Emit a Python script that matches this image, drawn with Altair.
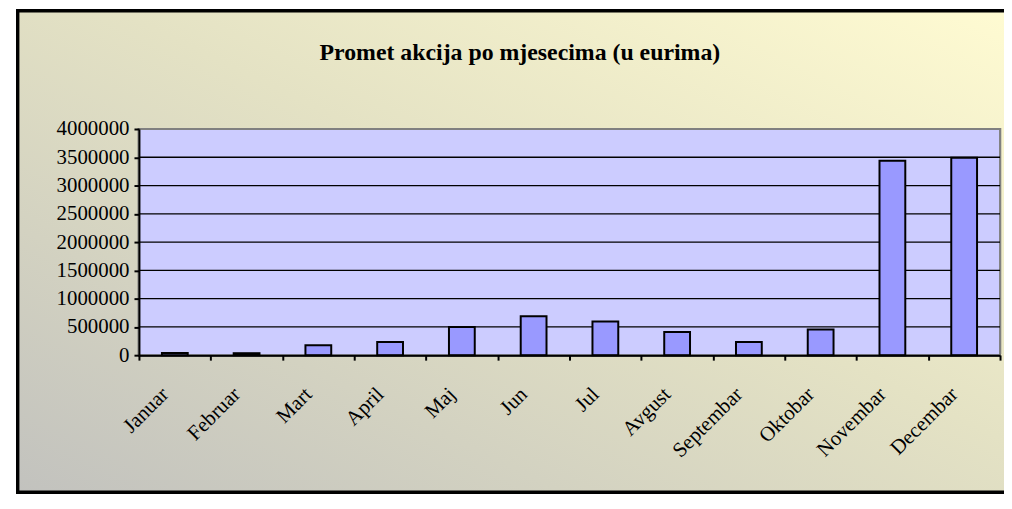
import altair as alt
import pandas as pd

months = ["Januar", "Februar", "Mart", "April", "Maj", "Jun", "Jul",
          "Avgust", "Septembar", "Oktobar", "Novembar", "Decembar"]
values = [40000, 35000, 175000, 235000, 500000, 690000, 596000,
          410000, 235000, 456000, 3440000, 3490000]
y_ticks = [0, 500000, 1000000, 1500000, 2000000, 2500000, 3000000, 3500000, 4000000]
title_text = "Promet akcija po mjesecima (u eurima)"

df = pd.DataFrame({"mjesec": months, "promet": values})
grid_df = pd.DataFrame({"v": y_ticks[1:-1]})

FONT = "Liberation Serif"

gradient = alt.LinearGradient(
    gradient="linear", x1=0, y1=1, x2=1, y2=0,
    stops=[alt.GradientStop(offset=0, color="#c2c2be"),
           alt.GradientStop(offset=0.55, color="#e4e2c4"),
           alt.GradientStop(offset=1, color="#fffbd2")],
)

bg = alt.Chart(df).mark_rect(
    fill=gradient, stroke="black", strokeWidth=3, clip=False
).encode(
    x=alt.value(-122), x2=alt.value(880),
    y=alt.value(-119), y2=alt.value(366),
)

plotbg = alt.Chart(df).mark_rect(fill="#ccccff", stroke="#808080", strokeWidth=2).encode(
    x=alt.value(0), x2=alt.value(868), y=alt.value(0), y2=alt.value(228)
)

yscale = alt.Scale(domain=[0, 4000000], nice=False)
yaxis = alt.Axis(title=None, values=y_ticks, format="d",
                 labelFont=FONT, labelFontSize=21, labelColor="black",
                 labelPadding=5, labelOverlap=False,
                 tickColor="black", tickSize=5, tickWidth=2,
                 domainColor="black", domainWidth=2,
                 grid=False, zindex=1)

grid = alt.Chart(grid_df).mark_rule(color="black", strokeWidth=1.3).encode(
    y=alt.Y("v:Q", scale=yscale, axis=yaxis), x=alt.value(0), x2=alt.value(868)
)

bars = alt.Chart(df).mark_bar(
    fill="#9999ff", stroke="black", strokeWidth=2, size=26
).encode(
    x=alt.X("mjesec:N", sort=months,
            scale=alt.Scale(paddingInner=0, paddingOuter=0),
            axis=alt.Axis(title=None, labelAngle=-45, labelAlign="right",
                          labelBaseline="middle", labelFont=FONT, labelFontSize=21,
                          labelColor="black", labelPadding=31, labelOffset=-10,
                          labelOverlap=False,
                          tickBand="extent", tickColor="black", tickSize=5,
                          tickWidth=2, domainColor="black", domainWidth=2,
                          grid=False, zindex=1)),
    y=alt.Y("promet:Q", scale=yscale, axis=yaxis),
)

chart = alt.layer(bg, plotbg, grid, bars).properties(
    width=868, height=228,
    title=alt.TitleParams(title_text, font=FONT, fontSize=24, fontWeight="bold",
                          color="black", anchor="middle", dx=-50, offset=-56,
                          zindex=1),
    padding={"left": 132, "top": 120, "right": 4, "bottom": 142},
    autosize=alt.AutoSizeParams(type="none"),
).configure_view(stroke=None).configure(background="white")

chart.save("out.html", embed_options={"renderer": "svg", "actions": False})
